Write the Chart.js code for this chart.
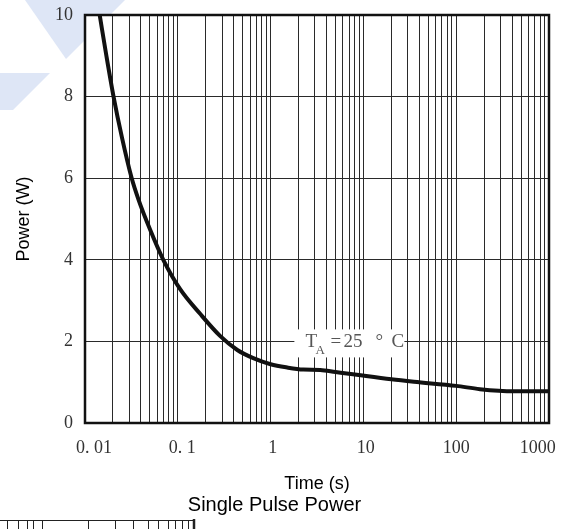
<!DOCTYPE html>
<html>
<head>
<meta charset="utf-8">
<script src="https://cdn.jsdelivr.net/npm/chart.js@4.4.0/dist/chart.umd.min.js"></script>
<style>
  html, body { margin: 0; padding: 0; background: #fff; }
  #wrap { width: 565px; height: 529px; position: relative; }
</style>
</head>
<body>
<div id="wrap"><canvas id="myChart"></canvas></div>
<script>
'use strict';

// single pulse power curve
const timeValues = [0.0144, 0.017, 0.0203, 0.025, 0.0316, 0.0378, 0.0505, 0.0698, 0.106, 0.175, 0.287, 0.438, 0.651, 1, 1.51, 2.25, 3.43, 5, 8.5, 20, 35, 100, 180, 420, 1000];
const powerValues = [10, 9, 8, 7, 6.03, 5.47, 4.73, 4.0, 3.28, 2.67, 2.13, 1.79, 1.59, 1.44, 1.36, 1.31, 1.30, 1.25, 1.18, 1.07, 1.01, 0.91, 0.83, 0.78, 0.78];

const xTickValues = [0.01, 0.1, 1, 10, 100, 1000];
const xTickLabels = ['0. 01', '0. 1', '1', '10', '100', '1000'];
const yTickValues = [0, 2, 4, 6, 8, 10];

// spaces around the labels nudge them like in the scan
const xLabelLead = [4, 2, 1, 1, 0, 0];
const xLabelTrail = [0, 0, 0, 0, 0, 5];

const noteTime = 2.37;
const notePower = 2;

const serif = '"Liberation Serif", "DejaVu Serif", serif';
const sans = '"Liberation Sans", Arial, sans-serif';

// log grid: 1..9 in every decade
function minorTicks() {
  let list = [];
  for (let i = 0; i < xTickValues.length - 1; i++) {
    for (let k = 1; k < 10; k++) {
      list.push({value: xTickValues[i] * k});
    }
  }
  list.push({value: xTickValues[xTickValues.length - 1]});
  return list;
}

function labelFor(value) {
  for (let i = 0; i < xTickValues.length; i++) {
    if (Math.abs(value - xTickValues[i]) / xTickValues[i] < 1e-6) {
      return ' '.repeat(xLabelLead[i]) + xTickLabels[i] + ' '.repeat(xLabelTrail[i]);
    }
  }
  return '';
}

const backdrop = {
  id: 'backdrop',
  beforeDraw(chart) {
    const ctx = chart.ctx;
    const a = chart.chartArea;
    ctx.save();
    ctx.fillStyle = '#fff';
    ctx.fillRect(0, 0, chart.width, chart.height);
    ctx.fillStyle = 'rgb(222,230,246)';
    ctx.beginPath();
    ctx.moveTo(25, 0);
    ctx.lineTo(125, 0);
    ctx.lineTo(66, 59);
    ctx.closePath();
    ctx.fill();
    ctx.beginPath();
    ctx.moveTo(0, 73);
    ctx.lineTo(50, 73);
    ctx.lineTo(13, 110);
    ctx.lineTo(0, 110);
    ctx.closePath();
    ctx.fill();
    ctx.fillStyle = '#fff';
    ctx.fillRect(a.left, a.top, a.right - a.left, a.bottom - a.top);
    ctx.restore();
  }
};

const note = {
  id: 'note',
  afterDatasetsDraw(chart) {
    const ctx = chart.ctx;
    const px = chart.scales.x.getPixelForValue(noteTime);
    const py = chart.scales.y.getPixelForValue(notePower);
    ctx.save();
    ctx.fillStyle = '#fff';
    ctx.fillRect(px - 11, py - 12, 110, 28);
    ctx.fillStyle = '#555';
    ctx.textBaseline = 'alphabetic';
    ctx.font = '19px ' + serif;
    ctx.fillText('T', px, py + 6);
    ctx.fillText('=', px + 25, py + 6);
    ctx.fillText('25', px + 38, py + 6);
    ctx.fillText('°', px + 70, py + 6);
    ctx.fillText('C', px + 86, py + 6);
    ctx.font = '13px ' + serif;
    ctx.fillText('A', px + 10, py + 13);
    ctx.restore();
  }
};

const frame = {
  id: 'frame',
  afterDraw(chart) {
    const ctx = chart.ctx;
    const a = chart.chartArea;
    ctx.save();
    ctx.strokeStyle = '#111';
    ctx.lineWidth = 2.5;
    ctx.strokeRect(a.left, a.top, a.right - a.left, a.bottom - a.top);
    // top of the next chart peeking in at the bottom left
    ctx.lineWidth = 1;
    ctx.strokeStyle = '#222';
    ctx.beginPath();
    ctx.moveTo(0, 520.5);
    ctx.lineTo(194, 520.5);
    [7, 18, 27, 33, 42, 88, 115, 133, 148, 158, 168, 175, 182, 188].forEach(function(x) {
      ctx.moveTo(x + 0.5, 520);
      ctx.lineTo(x + 0.5, 529);
    });
    ctx.stroke();
    ctx.lineWidth = 2.5;
    ctx.beginPath();
    ctx.moveTo(194, 519);
    ctx.lineTo(194, 529);
    ctx.stroke();
    ctx.restore();
  }
};

const ctx = document.getElementById('myChart').getContext('2d');
const myChart = new Chart(ctx, {
  type: 'line',
  data: {
    labels: timeValues,
    datasets: [{
      data: timeValues.map(function(t, i) { return {x: t, y: powerValues[i]}; }),
      borderColor: '#111',
      borderWidth: 4,
      pointRadius: 0,
      fill: false,
      cubicInterpolationMode: 'monotone'
    }]
  },
  options: {
    responsive: true,
    maintainAspectRatio: false,
    animation: false,
    layout: {padding: {left: 0, top: 15, right: 16, bottom: 0}},
    plugins: {
      legend: {display: false},
      tooltip: {enabled: false},
      title: {
        display: true,
        text: 'Single Pulse Power',
        position: 'bottom',
        color: '#000',
        font: {family: sans, size: 20, weight: 'normal', lineHeight: 1},
        padding: {top: 2, bottom: 14}
      }
    },
    scales: {
      x: {
        type: 'logarithmic',
        min: xTickValues[0],
        max: xTickValues[xTickValues.length - 1],
        afterBuildTicks: function(scale) { scale.ticks = minorTicks(); },
        afterFit: function(scale) {
          scale.height = 70;
          scale.paddingLeft = 0;
          scale.paddingRight = 0;
        },
        ticks: {
          autoSkip: false,
          maxRotation: 0,
          padding: 14,
          color: '#333',
          font: {family: serif, size: 18},
          callback: function(value) { return labelFor(value); }
        },
        grid: {color: '#2a2a2a', lineWidth: 1, drawTicks: false},
        border: {display: false},
        title: {
          display: true,
          text: 'Time (s)',
          color: '#000',
          font: {family: sans, size: 18, lineHeight: 1},
          padding: {top: 0, bottom: 0}
        }
      },
      y: {
        type: 'linear',
        min: yTickValues[0],
        max: yTickValues[yTickValues.length - 1],
        afterBuildTicks: function(scale) {
          scale.ticks = yTickValues.map(function(v) { return {value: v}; });
        },
        afterFit: function(scale) {
          scale.width = 85;
          scale.paddingTop = 0;
          scale.paddingBottom = 0;
        },
        ticks: {
          padding: 12,
          color: '#333',
          font: {family: serif, size: 18}
        },
        grid: {color: '#2a2a2a', lineWidth: 1, drawTicks: false},
        border: {display: false},
        title: {
          display: true,
          text: 'Power (W)',
          color: '#000',
          font: {family: sans, size: 18, lineHeight: 1},
          padding: {top: 15, bottom: 0}
        }
      }
    }
  },
  plugins: [backdrop, note, frame]
});
</script>
</body>
</html>
